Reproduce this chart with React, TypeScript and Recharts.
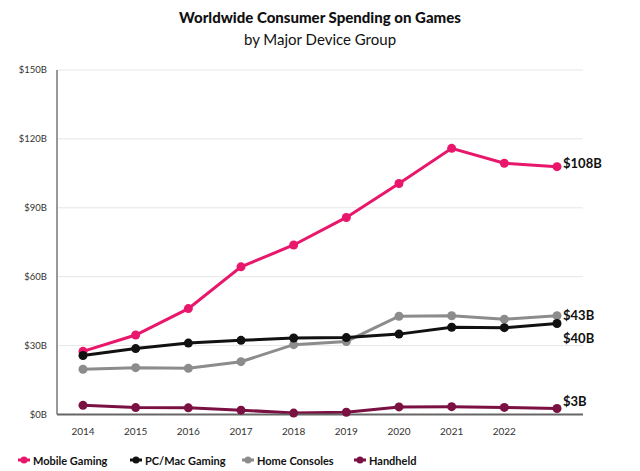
import { LineChart, Line, XAxis, YAxis, CartesianGrid, Legend, LabelList } from "recharts";

const years = ["2014", "2015", "2016", "2017", "2018", "2019", "2020", "2021", "2022", ""];
const mobile = [27.5, 34.6, 46.1, 64.3, 73.8, 85.8, 100.6, 115.9, 109.4, 107.9];
const pcMac = [25.7, 28.7, 31.1, 32.3, 33.3, 33.5, 35.0, 38.0, 37.8, 39.6];
const consoles = [19.7, 20.4, 20.1, 23.0, 30.4, 31.8, 42.8, 43.0, 41.5, 43.0];
const handheld = [4.0, 3.0, 2.9, 1.9, 0.6, 1.0, 3.3, 3.4, 3.1, 2.6];
const yTicks = [0, 30, 60, 90, 120, 150];

const data = years.map((year, i) => ({
  year: year || " ",
  mobile: mobile[i],
  pc: pcMac[i],
  consoles: consoles[i],
  handheld: handheld[i],
}));

const FONT = "Lato, 'Open Sans', sans-serif";

const series = [
  { key: "mobile", name: "Mobile Gaming", color: "#e8176b", labelDy: -4 },
  { key: "consoles", name: "Home Consoles", color: "#8c8c8c", labelDy: -1 },
  { key: "pc", name: "PC/Mac Gaming", color: "#111111", labelDy: 14 },
  { key: "handheld", name: "Handheld", color: "#7b1042", labelDy: -8 },
];
const legendOrder = ["mobile", "pc", "consoles", "handheld"];

const EndLabel = (dy: number) => (props: any) => {
  const { x, y, value, index } = props;
  if (index !== years.length - 1) return null;
  return (
    <text
      x={x + 6}
      y={y + dy}
      dominantBaseline="central"
      fontFamily={FONT}
      fontWeight={700}
      fontSize={13}
      fill="#111"
    >
      ${Math.round(value)}B
    </text>
  );
};

const LegendBox = () => (
  <div style={{ height: 26, display: "flex", alignItems: "center", paddingLeft: 18, paddingTop: 4, boxSizing: "border-box" }}>
    {legendOrder.map((k) => {
      const s = series.find((d) => d.key === k)!;
      return (
        <div key={k} style={{ width: 112, display: "flex", alignItems: "center", gap: 3 }}>
          <svg width={12} height={8}>
            <line x1={0} y1={4} x2={12} y2={4} stroke={s.color} strokeWidth={3} />
            <circle cx={6} cy={4} r={3.5} fill={s.color} />
          </svg>
          <span style={{ fontFamily: FONT, fontWeight: 700, fontSize: 11, color: "#111" }}>{s.name}</span>
        </div>
      );
    })}
  </div>
);

export default function App() {
  return (
    <div style={{ position: "fixed", top: 0, left: 0, width: 640, height: 471, background: "#fff" }}>
      <div style={{ position: "absolute", top: 6, left: 0, width: 640, textAlign: "center", fontFamily: FONT, color: "#111" }}>
        <div style={{ fontSize: 15, fontWeight: 900, lineHeight: "22px" }}>Worldwide Consumer Spending on Games</div>
        <div style={{ fontSize: 15, fontWeight: 400, lineHeight: "22px" }}>by Major Device Group</div>
      </div>
      <LineChart width={640} height={471} data={data} margin={{ top: 70, right: 57, bottom: 0, left: 0 }}>
        <CartesianGrid horizontal vertical={false} stroke="#e6e6e6" />
        <XAxis
          dataKey="year"
          height={30.5}
          padding={{ left: 26, right: 26 }}
          tickLine={false}
          axisLine={{ stroke: "#666", strokeWidth: 2 }}
          tickMargin={7}
          tick={{ fontFamily: FONT, fontSize: 10, fill: "#333" }}
          interval={0}
        />
        <YAxis
          width={57}
          domain={[0, 150]}
          ticks={yTicks}
          tickFormatter={(v) => `$${v}B`}
          tickLine={false}
          tickMargin={4}
          axisLine={{ stroke: "#777", strokeWidth: 1.5 }}
          tick={{ fontFamily: FONT, fontSize: 9.5, fill: "#333" }}
        />
        <Legend verticalAlign="bottom" content={<LegendBox />} />
        {series.map((s) => (
          <Line
            key={s.key}
            dataKey={s.key}
            name={s.name}
            stroke={s.color}
            strokeWidth={3}
            dot={{ r: 4.5, fill: s.color, stroke: s.color, strokeWidth: 0 }}
            isAnimationActive={false}
          >
            <LabelList dataKey={s.key} content={EndLabel(s.labelDy)} />
          </Line>
        ))}
      </LineChart>
    </div>
  );
}
